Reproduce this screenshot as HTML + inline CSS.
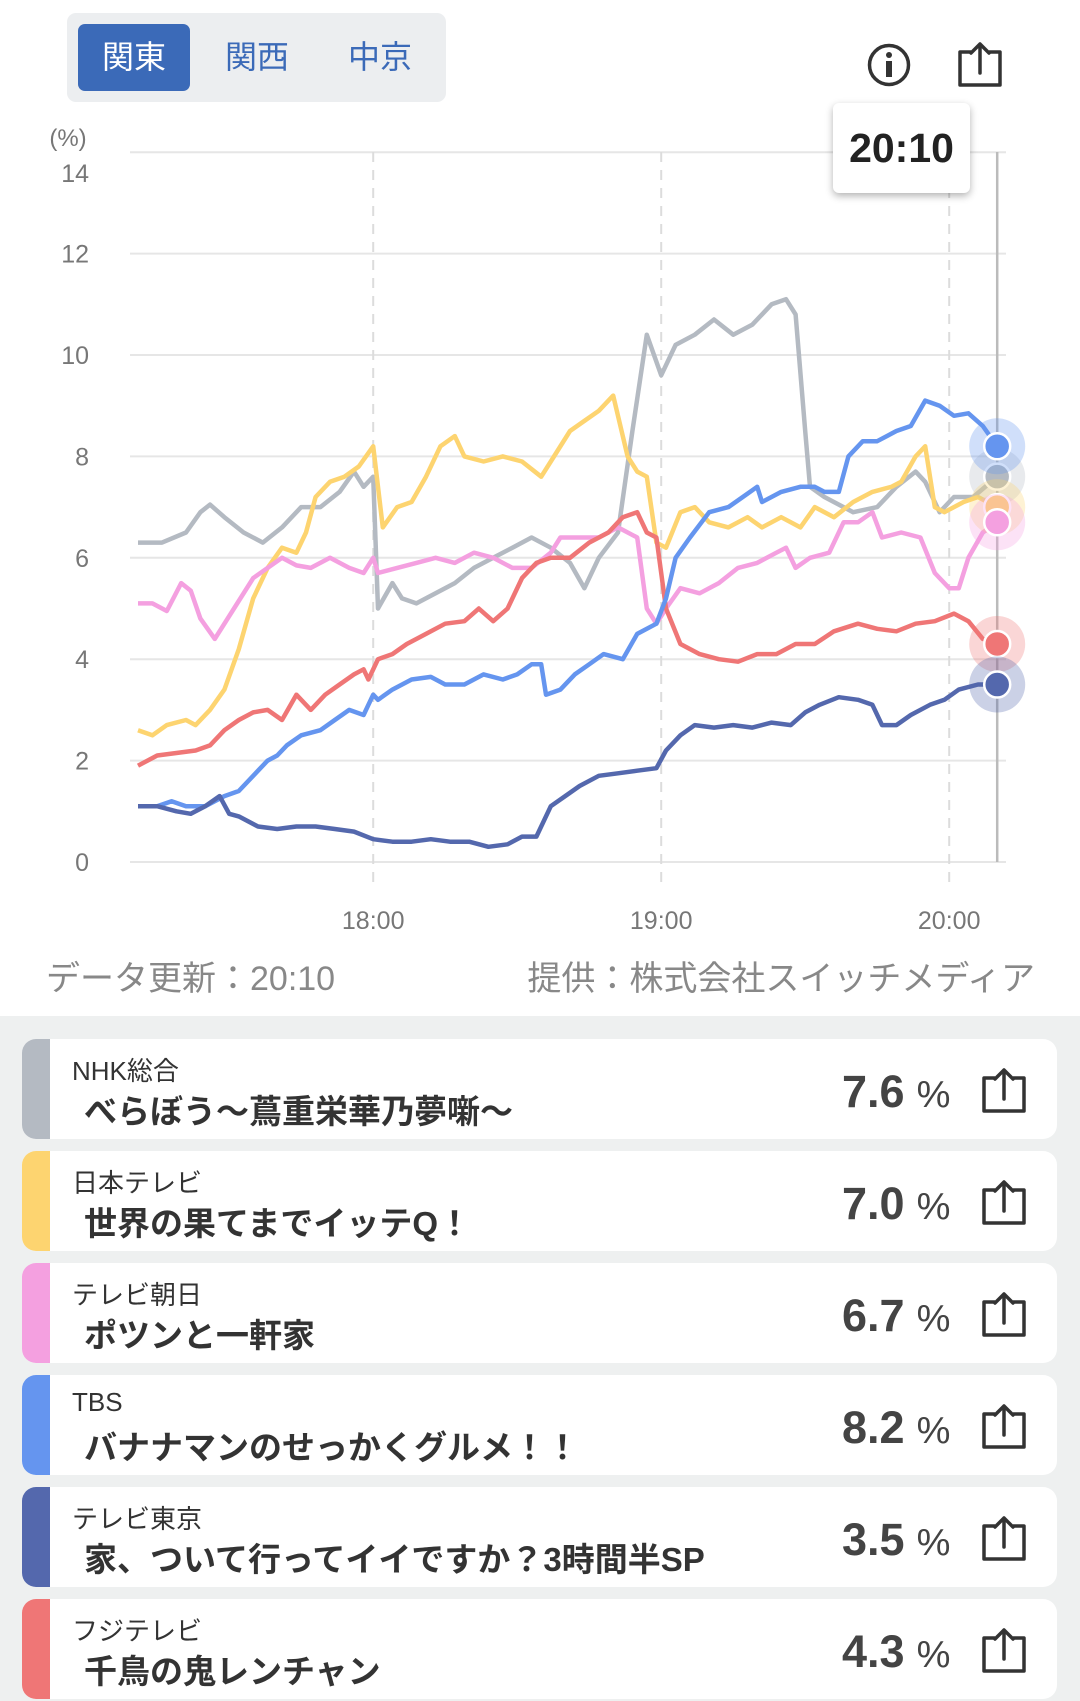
<!DOCTYPE html>
<html><head><meta charset="utf-8">
<style>
*{margin:0;padding:0;box-sizing:border-box}
body{width:1080px;height:1701px;background:#fff;font-family:"Liberation Sans","Noto Sans CJK JP",sans-serif;position:relative;overflow:hidden}
.abs{position:absolute}
#tabs{left:67px;top:13px;width:379px;height:89px;background:#eceef0;border-radius:9px}
.tab{position:absolute;top:11px;height:67px;width:112px;line-height:67px;text-align:center;font-size:32px;color:#3b6ab8}
.tab.on{background:#3b6ab8;color:#fff;border-radius:7px;left:11px}
#list{left:0;top:1016px;width:1080px;height:685px;background:#eef0f0}
.card{position:absolute;left:22px;width:1035px;height:100px;background:#fff;border-radius:14px;overflow:hidden}
.bar{position:absolute;left:0;top:0;width:28px;height:100%}
.ch{position:absolute;left:50px;top:12px;font-size:26px;color:#333}
.pg{position:absolute;left:62px;top:46px;font-size:33px;font-weight:bold;color:#333}
.val{position:absolute;left:820px;top:27px;font-size:45px;font-weight:bold;color:#444}
.val span{font-size:38px;font-weight:normal;margin-left:12px}
.sh{position:absolute;left:957px;top:27px}
</style></head><body>
<div id="tabs" class="abs">
 <div class="tab on">関東</div>
 <div class="tab" style="left:134px">関西</div>
 <div class="tab" style="left:257px">中京</div>
</div>
<svg class="abs" style="left:866px;top:42px" width="46" height="46"><circle cx="23" cy="23" r="19.5" fill="none" stroke="#333" stroke-width="3.5"/><circle cx="23" cy="13" r="3" fill="#333"/><rect x="20" y="19" width="6" height="16" fill="#333"/></svg>
<svg class="abs" style="left:955px;top:40px" width="50" height="50"><path d="M16 12 H5 V45 H45 V12 H34" fill="none" stroke="#333" stroke-width="3.5" stroke-linejoin="round"/><path d="M25 33 V4 M16 13 L25 4 L34 13" fill="none" stroke="#333" stroke-width="3.5" stroke-linecap="round" stroke-linejoin="round"/></svg>

<svg id="chart" class="abs" style="left:0;top:0" width="1080" height="1010"></svg>
<div class="abs" style="left:833px;top:103px;width:137px;height:90px;background:#fff;border-radius:6px;box-shadow:0 3px 8px rgba(0,0,0,.3);font-size:41px;font-weight:bold;text-align:center;line-height:90px;color:#222">20:10</div>
<div class="abs" style="left:46px;top:951px;font-size:34px;color:#888">データ更新：20:10</div>
<div class="abs" style="right:45px;top:951px;font-size:34px;color:#888">提供：株式会社スイッチメディア</div>

<div id="list" class="abs"></div>

<script>
const NS="http://www.w3.org/2000/svg";
const yTicks=[0,2,4,6,8,10,12,14];
const xTickLabels=["18:00","19:00","20:00"];
const xTickMinutes=[49,109,169];
const nhkT=[0,5,10,13,15,18,22,26,30,34,38,42,45,47,49,50,53,55,58,62,66,70,74,78,82,86,90,93,96,100,103,106,109,112,116,120,124,128,132,135,137,139,140,143,149,154,158,162,164,167,170,174,179];
const nhkV=[6.3,6.3,6.5,6.9,7.05,6.8,6.5,6.3,6.6,7.0,7.0,7.3,7.7,7.4,7.6,5.0,5.5,5.2,5.1,5.3,5.5,5.8,6.0,6.2,6.4,6.2,5.9,5.4,6.0,6.5,8.5,10.4,9.6,10.2,10.4,10.7,10.4,10.6,11.0,11.1,10.8,8.5,7.4,7.2,6.9,7.0,7.4,7.7,7.5,6.9,7.2,7.2,7.6];
const ntvT=[0,3,6,10,12,15,18,21,24,27,30,33,35,37,40,43,46,49,51,54,57,60,63,66,68,72,76,80,84,86,90,93,96,99,102,104,106,108,110,113,116,119,123,127,130,134,138,141,145,149,153,157,159,162,164,166,168,172,175,179];
const ntvV=[2.6,2.5,2.7,2.8,2.7,3.0,3.4,4.2,5.2,5.8,6.2,6.1,6.5,7.2,7.5,7.6,7.8,8.2,6.6,7.0,7.1,7.6,8.2,8.4,8.0,7.9,8.0,7.9,7.6,7.9,8.5,8.7,8.9,9.2,8.0,7.7,7.6,6.3,6.2,6.9,7.0,6.7,6.6,6.8,6.6,6.8,6.6,7.0,6.8,7.1,7.3,7.4,7.5,8.0,8.2,7.0,6.9,7.1,7.2,7.0];
const asahiT=[0,3,6,9,11,13,16,20,24,27,30,33,36,40,44,47,49,50,54,58,62,66,70,74,78,82,86,88,92,96,100,104,106,108,110,113,117,121,125,129,133,135,137,140,144,147,150,153,155,159,163,166,169,171,173,176,179];
const asahiV=[5.1,5.1,4.95,5.5,5.35,4.8,4.4,5.0,5.6,5.8,6.0,5.85,5.8,6.0,5.8,5.7,6.0,5.7,5.8,5.9,6.0,5.9,6.1,6.0,5.8,5.8,6.1,6.4,6.4,6.4,6.6,6.4,5.0,4.7,5.0,5.4,5.3,5.5,5.8,5.9,6.1,6.2,5.8,6.0,6.1,6.7,6.7,6.9,6.4,6.5,6.4,5.7,5.4,5.4,6.0,6.5,6.7];
const tbsT=[0,4,7,10,14,18,21,24,27,29,31,34,38,41,44,47,49,50,53,57,61,64,68,72,76,79,82,84,85,88,91,94,97,101,104,108,110,112,115,119,123,126,129,130,134,138,141,143,146,148,151,154,158,161,164,167,170,173,176,179];
const tbsV=[1.1,1.1,1.2,1.1,1.1,1.3,1.4,1.7,2.0,2.1,2.3,2.5,2.6,2.8,3.0,2.9,3.3,3.2,3.4,3.6,3.65,3.5,3.5,3.7,3.6,3.7,3.9,3.9,3.3,3.4,3.7,3.9,4.1,4.0,4.5,4.7,5.2,6.0,6.4,6.9,7.0,7.2,7.4,7.1,7.3,7.4,7.4,7.3,7.3,8.0,8.3,8.3,8.5,8.6,9.1,9.0,8.8,8.85,8.6,8.2];
const tokyoT=[0,4,8,11,14,17,19,21,25,29,33,37,41,45,49,53,57,61,65,69,73,77,80,83,86,89,92,96,100,104,108,110,113,116,120,124,128,132,136,139,142,146,150,153,155,158,161,165,168,171,175,179];
const tokyoV=[1.1,1.1,1.0,0.95,1.1,1.3,0.95,0.9,0.7,0.65,0.7,0.7,0.65,0.6,0.45,0.4,0.4,0.45,0.4,0.4,0.3,0.35,0.5,0.5,1.1,1.3,1.5,1.7,1.75,1.8,1.85,2.2,2.5,2.7,2.65,2.7,2.65,2.75,2.7,2.95,3.1,3.25,3.2,3.1,2.7,2.7,2.9,3.1,3.2,3.4,3.5,3.5];
const fujiT=[0,4,8,12,15,18,21,24,27,30,33,36,39,42,45,47,48,50,53,56,60,64,68,71,74,77,80,83,86,90,94,98,101,104,106,108,110,113,117,121,125,129,133,137,141,145,150,154,158,162,166,170,173,176,179];
const fujiV=[1.9,2.1,2.15,2.2,2.3,2.6,2.8,2.95,3.0,2.8,3.3,3.0,3.3,3.5,3.7,3.8,3.6,4.0,4.1,4.3,4.5,4.7,4.75,5.0,4.75,5.0,5.6,5.9,6.0,6.0,6.3,6.5,6.8,6.9,6.5,6.4,5.0,4.3,4.1,4.0,3.95,4.1,4.1,4.3,4.3,4.55,4.7,4.6,4.55,4.7,4.75,4.9,4.75,4.4,4.3];

const X=t=>138+t*4.8;
const Y=v=>862-v*50.7;
const svg=document.getElementById('chart');
function mk(tag,attrs){const e=document.createElementNS(NS,tag);for(const k in attrs)e.setAttribute(k,attrs[k]);svg.appendChild(e);return e;}
const pl=mk('text',{x:68,y:146,'font-size':24,fill:'#777','text-anchor':'middle'});pl.textContent='(%)';


yTicks.forEach(v=>{
 const l=mk('line',{x1:130,x2:1006,y1:Y(v),y2:Y(v),stroke:'#e6e6e6','stroke-width':2});
 
 
 const ty=v===14?Y(v)+30:Y(v)+9;
 const t=mk('text',{x:89,y:ty,'font-size':25,fill:'#777','text-anchor':'end','font-family':'Liberation Sans, sans-serif'});t.textContent=v;
 
 
});
xTickMinutes.forEach((m,i)=>{
 const l=mk('line',{x1:X(m),x2:X(m),y1:152,y2:884,stroke:'#dcdcdc','stroke-width':2,'stroke-dasharray':'10 8'});
 
 
 const t=mk('text',{x:X(m),y:929,'font-size':25,fill:'#777','text-anchor':'middle'});t.textContent=xTickLabels[i];
 
 
});
const cur=mk('line',{x1:X(179),x2:X(179),y1:152,y2:862,stroke:'#bbb','stroke-width':2.5});


const series=[
 ['nhk',nhkT,nhkV,'#b4bac2'],['ntv',ntvT,ntvV,'#fdd470'],['asahi',asahiT,asahiV,'#f4a0e0'],
 ['fuji',fujiT,fujiV,'#ef7676'],['tbs',tbsT,tbsV,'#6595ef'],['tokyo',tokyoT,tokyoV,'#5468ad']];
series.forEach(s=>{
 const d=s[1].map((t,i)=>(i?'L':'M')+X(t).toFixed(1)+' '+Y(s[2][i]).toFixed(1)).join(' ');
 const p=mk('path',{d:d,fill:'none',stroke:s[3],'stroke-width':4.5,'stroke-linejoin':'round'});
 
 
});
series.forEach(s=>{
 const v=s[2][s[2].length-1];
 const h=mk('circle',{cx:X(179),cy:Y(v),r:28,fill:s[3],opacity:0.3});
 
 
 const c=mk('circle',{cx:X(179),cy:Y(v),r:13,fill:s[3],stroke:'#fff','stroke-width':2.5});
 
 
});

const chans=["NHK総合","日本テレビ","テレビ朝日","TBS","テレビ東京","フジテレビ"];
const progs=["べらぼう～蔦重栄華乃夢噺～","世界の果てまでイッテQ！","ポツンと一軒家","バナナマンのせっかくグルメ！！","家、ついて行ってイイですか？3時間半SP","千鳥の鬼レンチャン"];
const vals=["7.6","7.0","6.7","8.2","3.5","4.3"];
const cols=['#b4bac2','#fdd470','#f4a0e0','#6595ef','#5468ad','#ef7676'];
const list=document.getElementById('list');
chans.forEach((c,i)=>{
 const card=document.createElement('div');card.className='card';card.style.top=(23+i*112)+'px';
 
 
 card.innerHTML='<div class="bar" style="background:'+cols[i]+'"></div><div class="ch">'+c+'</div><div class="pg">'+progs[i]+'</div><div class="val">'+vals[i]+'<span>%</span></div><svg class="sh" width="50" height="50"><path d="M16 12 H5 V45 H45 V12 H34" fill="none" stroke="#333" stroke-width="3.5" stroke-linejoin="round"/><path d="M25 33 V4 M16 13 L25 4 L34 13" fill="none" stroke="#333" stroke-width="3.5" stroke-linecap="round" stroke-linejoin="round"/></svg>';
 list.appendChild(card);
 card.querySelector('.bar');
 card.querySelector('.bar');
 card.querySelector('.ch');
 card.querySelector('.ch');
 card.querySelector('.pg');
 card.querySelector('.pg');
 card.querySelector('.val');
 card.querySelector('.val');
 card.querySelector('.sh');
 card.querySelector('.sh');
});
</script>
</body></html>
